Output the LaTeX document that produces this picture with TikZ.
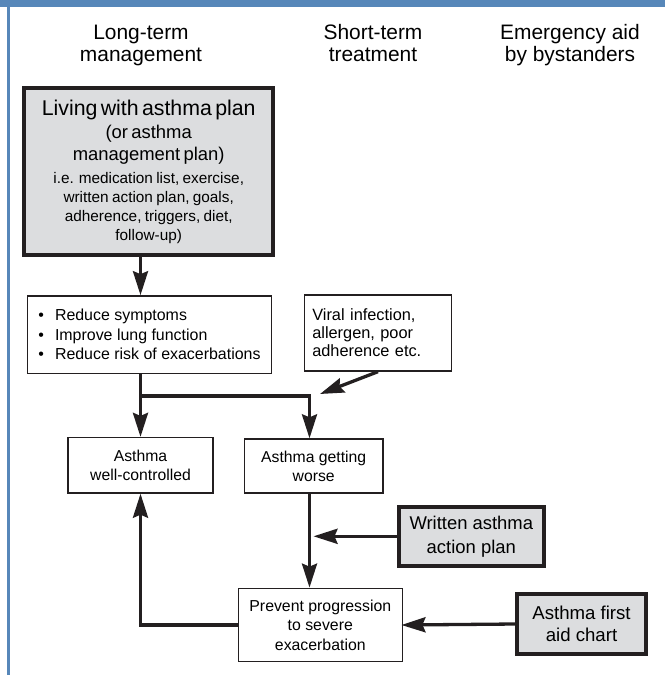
\documentclass[tikz,border=0pt]{standalone}
\usepackage{fontspec}
\setmainfont{Liberation Sans}
\usepackage{xcolor}
\usetikzlibrary{positioning, calc, arrows.meta}

\definecolor{barblue}{HTML}{5787B9}
\definecolor{planfill}{HTML}{DCDDDF}
\definecolor{inkblack}{HTML}{231F20}

\tikzset{
  head/.style={align=center, font=\fontsize{21}{22.5}\selectfont, inner sep=0pt, anchor=base},
  thinbox/.style={draw=inkblack, line width=1.3bp, fill=white, inner sep=0pt, align=center},
  thickbox/.style={draw=inkblack, line width=4bp, fill=planfill, inner sep=0pt, align=center},
  flow/.style={draw=inkblack, line width=3.3bp, -{Stealth[length=24bp,width=15bp,inset=3bp]}},
}

\begin{document}
\begin{tikzpicture}[x=1bp, y=-1bp]
        \useasboundingbox (0,0) rectangle (665,675);

        % ==========================================
        % Frame
        % ==========================================
        \fill[barblue] (0,0) rectangle (665,7.5);
        \fill[barblue] (7,0) rectangle (10,675);

        % ==========================================
        % Column headings
        % ==========================================
        \node[head] (hlong) at (141,61.5) {Long-term\\management};
        \node[head] (hshort) at (373,61.5) {Short-term\\treatment};
        \node[head] (hemerg) at (570,61.5) {Emergency aid\\by bystanders};

        % ==========================================
        % Long-term management
        % ==========================================
        \node[thickbox, minimum width=249bp, minimum height=166.5bp, text width=245bp] (plan) at (148.7,171.7) {%
          {\fontsize{21.4}{24}\selectfont Living with asthma plan\par}
          {\fontsize{18.5}{23}\selectfont (or asthma\\ management plan)\par}
          \vspace{3bp}
          {\fontsize{15.4}{19.2}\selectfont i.e. medication list, exercise,\\ written action plan, goals,\\ adherence, triggers, diet,\\ follow-up)\par}};

        \node[thinbox, align=left, minimum width=243.8bp, minimum height=77.3bp,
              font=\fontsize{16}{19.7}\selectfont] (goals) at (149.5,334.5)
          {\textbullet\hspace{11bp}Reduce symptoms\\
           \textbullet\hspace{11bp}Improve lung function\\
           \textbullet\hspace{11bp}Reduce risk of exacerbations};

        \node[thinbox, align=left, text width=131.4bp, inner xsep=8bp, minimum height=76bp,
              font=\fontsize{16.4}{18}\selectfont] (trigger) at (378,333)
          {Viral infection,\\ allergen, poor\\ adherence etc.};

        % ==========================================
        % Asthma state
        % ==========================================
        \node[thinbox, minimum width=145bp, minimum height=55.5bp,
              font=\fontsize{15.8}{19}\selectfont] (wellctrl) at (140.5,465.3) {Asthma\\well-controlled};
        \node[thinbox, minimum width=138.7bp, minimum height=54bp,
              font=\fontsize{15.8}{19}\selectfont] (worse) at (313.7,466) {Asthma getting\\worse};
        \node[thinbox, minimum width=164bp, minimum height=73.4bp,
              font=\fontsize{15.9}{19.5}\selectfont] (prevent) at (320.3,625) {Prevent progression\\to severe\\exacerbation};

        % ==========================================
        % Short-term treatment and emergency aid
        % ==========================================
        \node[thickbox, minimum width=145.3bp, minimum height=58.7bp,
              font=\fontsize{18.5}{24}\selectfont] (actionplan) at (471.3,536.3) {Written asthma\\action plan};
        \node[thickbox, minimum width=129bp, minimum height=60bp,
              font=\fontsize{18.7}{22.5}\selectfont] (aidchart) at (581.5,624) {Asthma first\\aid chart};

        % ==========================================
        % Connectors
        % ==========================================
        \coordinate (split) at (140.5,396);
        \coordinate (spine) at (309.5,396);
        \coordinate (hit) at (320,394);

        \draw[flow] (plan.south -| wellctrl.north) -- (goals.north -| wellctrl.north);
        \draw[flow] (goals.south -| split) -- (split) -- (spine) -- (worse.north -| spine);
        \draw[flow] (split) -- (wellctrl.north);
        \draw[flow] (trigger.south) -- (hit);
        \draw[flow] (worse.south -| spine) -- (prevent.north -| spine);
        \draw[flow] (actionplan.west) -- ([xshift=4bp]actionplan.west -| spine);
        \draw[flow, shorten >=-1.5bp] (aidchart.west) -- (prevent.east);
        \draw[flow] (prevent.west) -| (wellctrl.south);

    \end{tikzpicture}
\end{document}
